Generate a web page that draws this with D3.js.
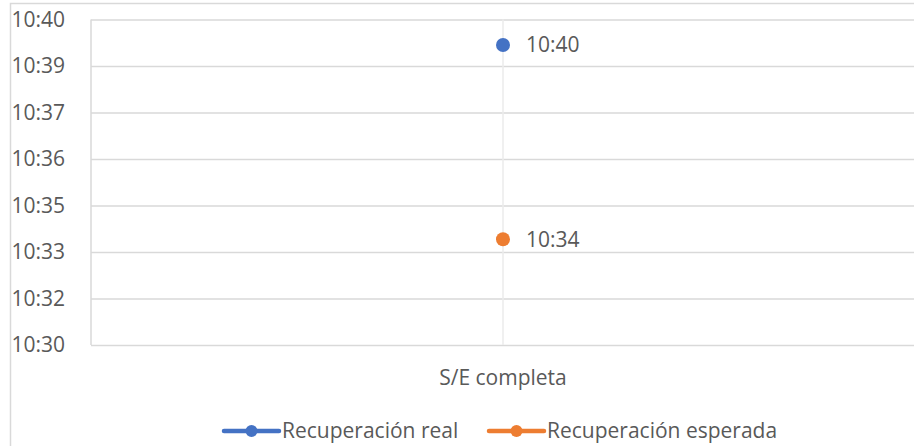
<!DOCTYPE html>
<html>
<head>
<meta charset="utf-8">
<script src="https://cdn.jsdelivr.net/npm/d3@7"></script>
<style>
  body { margin: 0; background: #fff; }
  text { font-family: "Open Sans", "Liberation Sans", sans-serif; fill: #595959; }
</style>
</head>
<body>
<script>
// data
var categories = ["S/E completa"];
var seriesNames = ["Recuperación real", "Recuperación esperada"];
var seriesColors = ["#4472c4", "#ed7d31"];
var seriesValues = [["10:39:56"], ["10:34:05"]];
// axis bounds & major ticks (excel picks odd steps)
var axisMin = "10:30:54";
var axisMax = "10:40:42";
var tickTimes = ["10:30:54", "10:32:18", "10:33:42", "10:35:06", "10:36:30", "10:37:54", "10:39:18", "10:40:42"];

var width = 914, height = 446;
var fs = 21;
var parse = d3.timeParse("%H:%M:%S");
var fmt = d3.timeFormat("%H:%M");

var svg = d3.select("body").append("svg")
    .attr("width", width)
    .attr("height", height);

// chart outer border (runs off the right/bottom like the original)
svg.append("rect")
    .attr("x", 10.5).attr("y", 3.5)
    .attr("width", 1000).attr("height", 500)
    .attr("fill", "none")
    .attr("stroke", "#d9d9d9")
    .attr("stroke-width", 1.5);

var plot = {left: 91, top: 19.5, right: 915, bottom: 345};

var y = d3.scaleTime()
    .domain([parse(axisMin), parse(axisMax)])
    .range([plot.bottom, plot.top]);

var x = d3.scaleBand()
    .domain(categories)
    .range([plot.left, plot.right]);

// horizontal gridlines
var yAxis = d3.axisLeft(y)
    .tickValues(tickTimes.map(parse))
    .tickFormat(fmt)
    .tickSize(-(plot.right - plot.left))
    .tickPadding(26);

var gy = svg.append("g")
    .attr("transform", "translate(" + plot.left + ",0)")
    .call(yAxis);
gy.select(".domain").remove();
gy.selectAll("line").attr("stroke", "#d9d9d9").attr("stroke-width", 1.5);
gy.selectAll("text").attr("font-size", fs).attr("fill", "#595959");

// left edge + category gridlines
svg.append("line")
    .attr("x1", plot.left).attr("x2", plot.left)
    .attr("y1", plot.top).attr("y2", plot.bottom)
    .attr("stroke", "#d9d9d9").attr("stroke-width", 1.5);

svg.selectAll(".catgrid")
    .data(categories)
    .enter().append("line")
    .attr("class", "catgrid")
    .attr("x1", function(d){return x(d) + x.bandwidth()/2;})
    .attr("x2", function(d){return x(d) + x.bandwidth()/2;})
    .attr("y1", plot.top).attr("y2", plot.bottom)
    .attr("stroke", "#ebebeb").attr("stroke-width", 1.5);

svg.selectAll(".catlabel")
    .data(categories)
    .enter().append("text")
    .attr("class", "catlabel")
    .attr("x", function(d){return x(d) + x.bandwidth()/2;})
    .attr("y", 385)
    .attr("text-anchor", "middle")
    .attr("font-size", fs)
    .text(function(d){return d;});

// points + data labels
seriesNames.forEach(function(name, si){
    var pts = seriesValues[si].map(function(v, i){
        return {cat: categories[i], t: parse(v)};
    });
    var g = svg.append("g");
    g.selectAll("circle")
        .data(pts)
        .enter().append("circle")
        .attr("cx", function(d){return x(d.cat) + x.bandwidth()/2;})
        .attr("cy", function(d){return y(d.t);})
        .attr("r", 7)
        .attr("fill", seriesColors[si]);
    g.selectAll("text")
        .data(pts)
        .enter().append("text")
        .attr("x", function(d){return x(d.cat) + x.bandwidth()/2 + 23;})
        .attr("y", function(d){return y(d.t);})
        .attr("dy", "0.35em")
        .attr("font-size", fs)
        .text(function(d){return fmt(d3.timeMinute.round(d.t));});
});

// legend
var legendX = [224, 489];
var lg = svg.selectAll(".legend")
    .data(seriesNames)
    .enter().append("g")
    .attr("class", "legend")
    .attr("transform", function(d, i){return "translate(" + legendX[i] + ",431)";});
lg.append("line")
    .attr("x1", 0).attr("x2", 55)
    .attr("stroke", function(d, i){return seriesColors[i];})
    .attr("stroke-width", 4.5)
    .attr("stroke-linecap", "round");
lg.append("circle")
    .attr("cx", 27.5).attr("r", 6)
    .attr("fill", function(d, i){return seriesColors[i];});
lg.append("text")
    .attr("x", 58)
    .attr("y", 7)
    .attr("font-size", fs)
    .text(function(d){return d;});
</script>
</body>
</html>
